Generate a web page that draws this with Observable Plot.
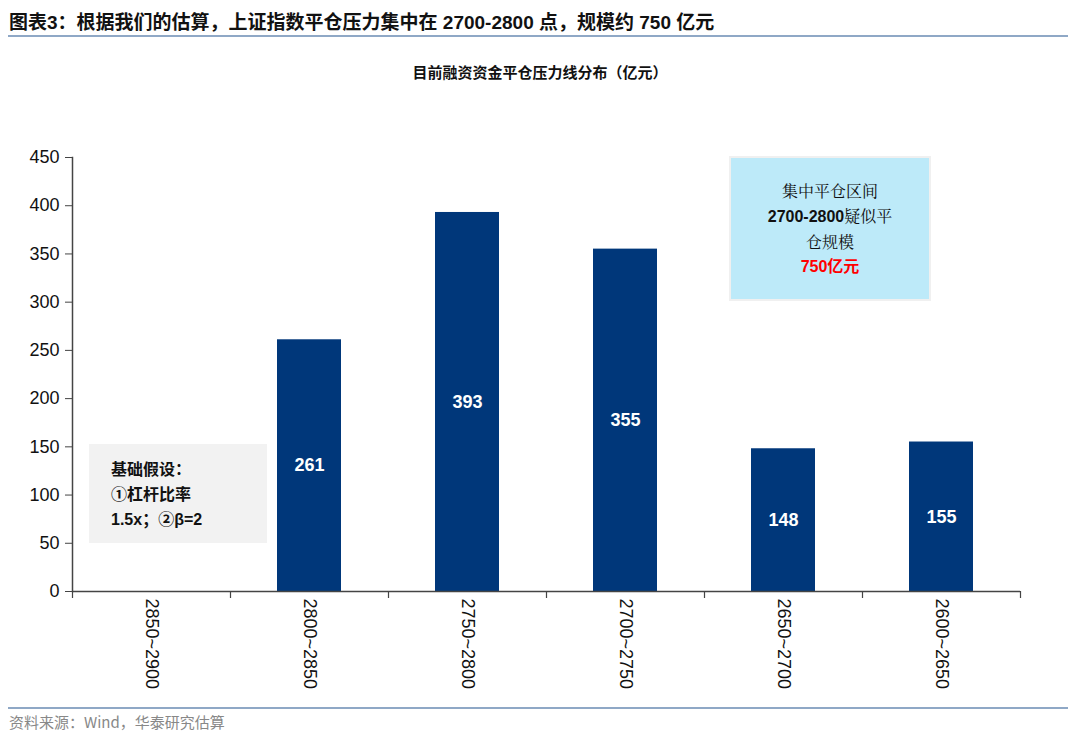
<!DOCTYPE html>
<html><head><meta charset="utf-8">
<script src="https://cdn.jsdelivr.net/npm/d3@7"></script>
<script src="https://cdn.jsdelivr.net/npm/@observablehq/plot@0.6"></script>
<style>
body{margin:0;width:1080px;height:742px;background:#fff;position:relative;overflow:hidden;font-family:"Liberation Sans",Arial,"Noto Sans CJK SC",sans-serif;}
.abs{position:absolute;}
#title{left:9px;top:7px;font-size:19px;font-weight:bold;color:#111;font-family:"Liberation Sans","Noto Sans CJK SC",sans-serif;white-space:nowrap;}
#tline{left:8px;top:35px;width:1060px;height:2px;background:#8FA8C6;}
#sub{left:0;width:1080px;top:61px;text-align:center;font-size:15px;font-weight:bold;color:#111;font-family:"Noto Sans CJK SC",sans-serif;}
#chart{left:0;top:100px;}
#bline{left:8px;top:707px;width:1060px;height:2px;background:#8FA8C6;}
#foot{left:9px;top:711px;font-size:15px;color:#888;font-family:"Noto Sans CJK SC",sans-serif;}
#blue{left:731px;top:158px;width:198px;height:141px;background:#BDEAF9;box-shadow:0 0 0 2px #f0f0f0;box-sizing:border-box;display:flex;flex-direction:column;justify-content:center;align-items:center;font-size:16px;line-height:25px;color:#111;}
#gray{left:89px;top:444px;width:178px;height:99px;background:#F2F2F2;box-sizing:border-box;padding:13px 0 0 22px;font-size:16px;line-height:25px;font-weight:bold;color:#111;}
.cj{font-family:"Noto Serif CJK SC","Noto Sans CJK SC",serif;}
</style></head>
<body>
<div id="title" class="abs">图表3：根据我们的估算，上证指数平仓压力集中在 2700-2800 点，规模约 750 亿元</div>
<div id="tline" class="abs"></div>
<div id="sub" class="abs">目前融资资金平仓压力线分布（亿元）</div>
<div id="chart" class="abs"></div>
<div id="blue" class="abs">
  <div class="cj">集中平仓区间</div>
  <div><b>2700-2800</b><span class="cj">疑似平</span></div>
  <div class="cj">仓规模</div>
  <div style="color:#FF0000;font-weight:bold">750亿元</div>
</div>
<div id="gray" class="abs">
  <div>基础假设：</div>
  <div>①杠杆比率</div>
  <div>1.5x；②β=2</div>
</div>
<div id="bline" class="abs"></div>
<div id="foot" class="abs">资料来源：Wind，华泰研究估算</div>
<script>
const categories = ["2850~2900","2800~2850","2750~2800","2700~2750","2650~2700","2600~2650"];
const values = [0, 261, 393, 355, 148, 155];
const yTicks = [0,50,100,150,200,250,300,350,400,450];

const data = categories.map((c,i)=>({cat:c, v:values[i]}));
const W = 1080, mL = 72, mR = 60;
const step = (W - mL - mR) / categories.length;
const barW = 64;
const inset = (step - barW) / 2;

const chart = Plot.plot({
  width: W, height: 600,
  marginLeft: mL, marginRight: mR, marginTop: 57, marginBottom: 109,
  style: {fontFamily: '"Liberation Sans", Arial, sans-serif', fontSize: "18px", color: "#111", background: "transparent"},
  x: {domain: categories, padding: 0, label: null},
  y: {type: "linear", domain: [0, 450], label: null},
  marks: [
    Plot.barY(data.filter(d=>d.v>0), {x: "cat", y: "v", fill: "#00377A", insetLeft: inset, insetRight: inset}),
    Plot.text(data.filter(d=>d.v>0), {x: "cat", y: d=>d.v/2, text: d=>String(d.v), fill: "white", fontWeight: "bold", fontSize: 18}),
    Plot.axisY({ticks: yTicks, tickSize: 7, tickPadding: 6, fontSize: 18, stroke: "#444", fill: "#111"}),
    Plot.frame({anchor: "left", stroke: "#444", strokeWidth: 1.5}),
    Plot.ruleY([0], {stroke: "#444", strokeWidth: 1.5}),
    Plot.axisX({tickSize: 0, tickPadding: 7, tickRotate: 90, fontSize: 18, fill: "#111", textAnchor: "start"}),
    Plot.ruleX(categories, {x: d=>d, dx: -step/2, y1: 0, y2: 0, insetBottom: -7, stroke: "#444", strokeWidth: 1.2}),
    Plot.ruleX([categories[categories.length-1]], {x: d=>d, dx: step/2, y1: 0, y2: 0, insetBottom: -7, stroke: "#444", strokeWidth: 1.2})
  ]
});
document.getElementById("chart").appendChild(chart);
</script>
</body></html>
